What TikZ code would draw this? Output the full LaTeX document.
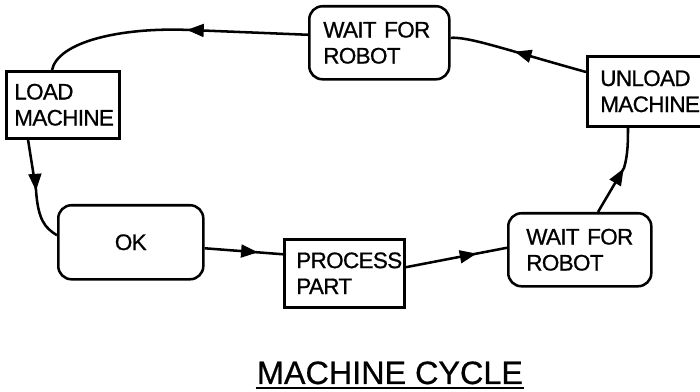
\documentclass[tikz,border=0pt]{standalone}
\usepackage{fontspec}
\setmainfont{Liberation Sans}
\newfontfamily\statefont{Liberation Sans}[LetterSpace=-3,FakeBold=0.8]
\newfontfamily\titlefont{Liberation Sans}[FakeBold=0.6]
\usetikzlibrary{arrows.meta,calc,decorations.markings}

\begin{document}
\begin{tikzpicture}[x=0.025cm, y=-0.025cm, line width=1.8pt]
    \tikzset{StateBox/.style={draw, anchor=north west, align=left,
        inner ysep=0pt, font=\statefont\fontsize{16}{18.5}\selectfont},
      StateRound/.style={StateBox, rounded corners=0.33cm},
      Flow/.style={postaction={decorate, decoration={markings,
        mark=at position #1 with {\arrow{Triangle[length=0.42cm,width=0.32cm]}}}}}}
    \useasboundingbox (0,0) rectangle (700,392);
    \node[StateRound, inner xsep=0.35cm, text width=2.8cm, minimum height=1.825cm] (wtop) at (308,5) {WAIT FOR\\ROBOT};
    \node[StateBox, inner xsep=0.2cm, text width=2.425cm, minimum height=1.675cm] (load) at (5,70) {LOAD\\MACHINE};
    \node[StateBox, inner xsep=0.325cm, text width=2.475cm, minimum height=1.75cm] (unload) at (586,55) {UNLOAD\\MACHINE};
    \node[StateRound, align=center, inner xsep=0.3cm, text width=3.025cm, minimum height=1.85cm] (ok) at (57,204) {OK};
    \node[StateBox, inner xsep=0.3cm, text width=2.4cm, minimum height=1.7cm] (proc) at (283,238) {PROCESS\\PART};
    \node[StateRound, inner xsep=0.45cm, text width=2.675cm, minimum height=1.825cm] (wbot) at (507,212) {WAIT FOR\\ROBOT};
    \draw[Flow=0.45] ($(wtop.west)+(0,-8)$) -- (190,30) .. controls (120,27) and (58,42) .. ($(load.north west)+(47,0)$);
    \draw[Flow=0.5] ($(load.south west)+(23,0)$) -- (36,190) .. controls (38,220) and (45,228) .. ($(ok.west)+(0,-7)$);
    \draw[Flow=0.68] ($(ok.east)+(0,6)$) -- ($(proc.west)+(0,-19)$);
    \draw[Flow=0.7] ($(proc.east)+(0,-6)$) -- ($(wbot.west)+(0,-2)$);
    \draw[Flow=0.55] ($(wbot.north west)+(91,0)$) -- (624,168) .. controls (628,155) and (628,140) .. ($(unload.south west)+(42,0)$);
    \draw[Flow=0.53] ($(unload.north west)+(0,17)$) .. controls (500,48) and (470,37) .. ($(wtop.east)+(0,-5)$);
    \node[font=\titlefont\fontsize{23}{26}\selectfont, anchor=base, inner sep=0pt] (title) at (390,384) {MACHINE CYCLE};
    \draw ([yshift=-0.1cm]title.base west) -- ([yshift=-0.1cm]title.base east);
\end{tikzpicture}
\end{document}
